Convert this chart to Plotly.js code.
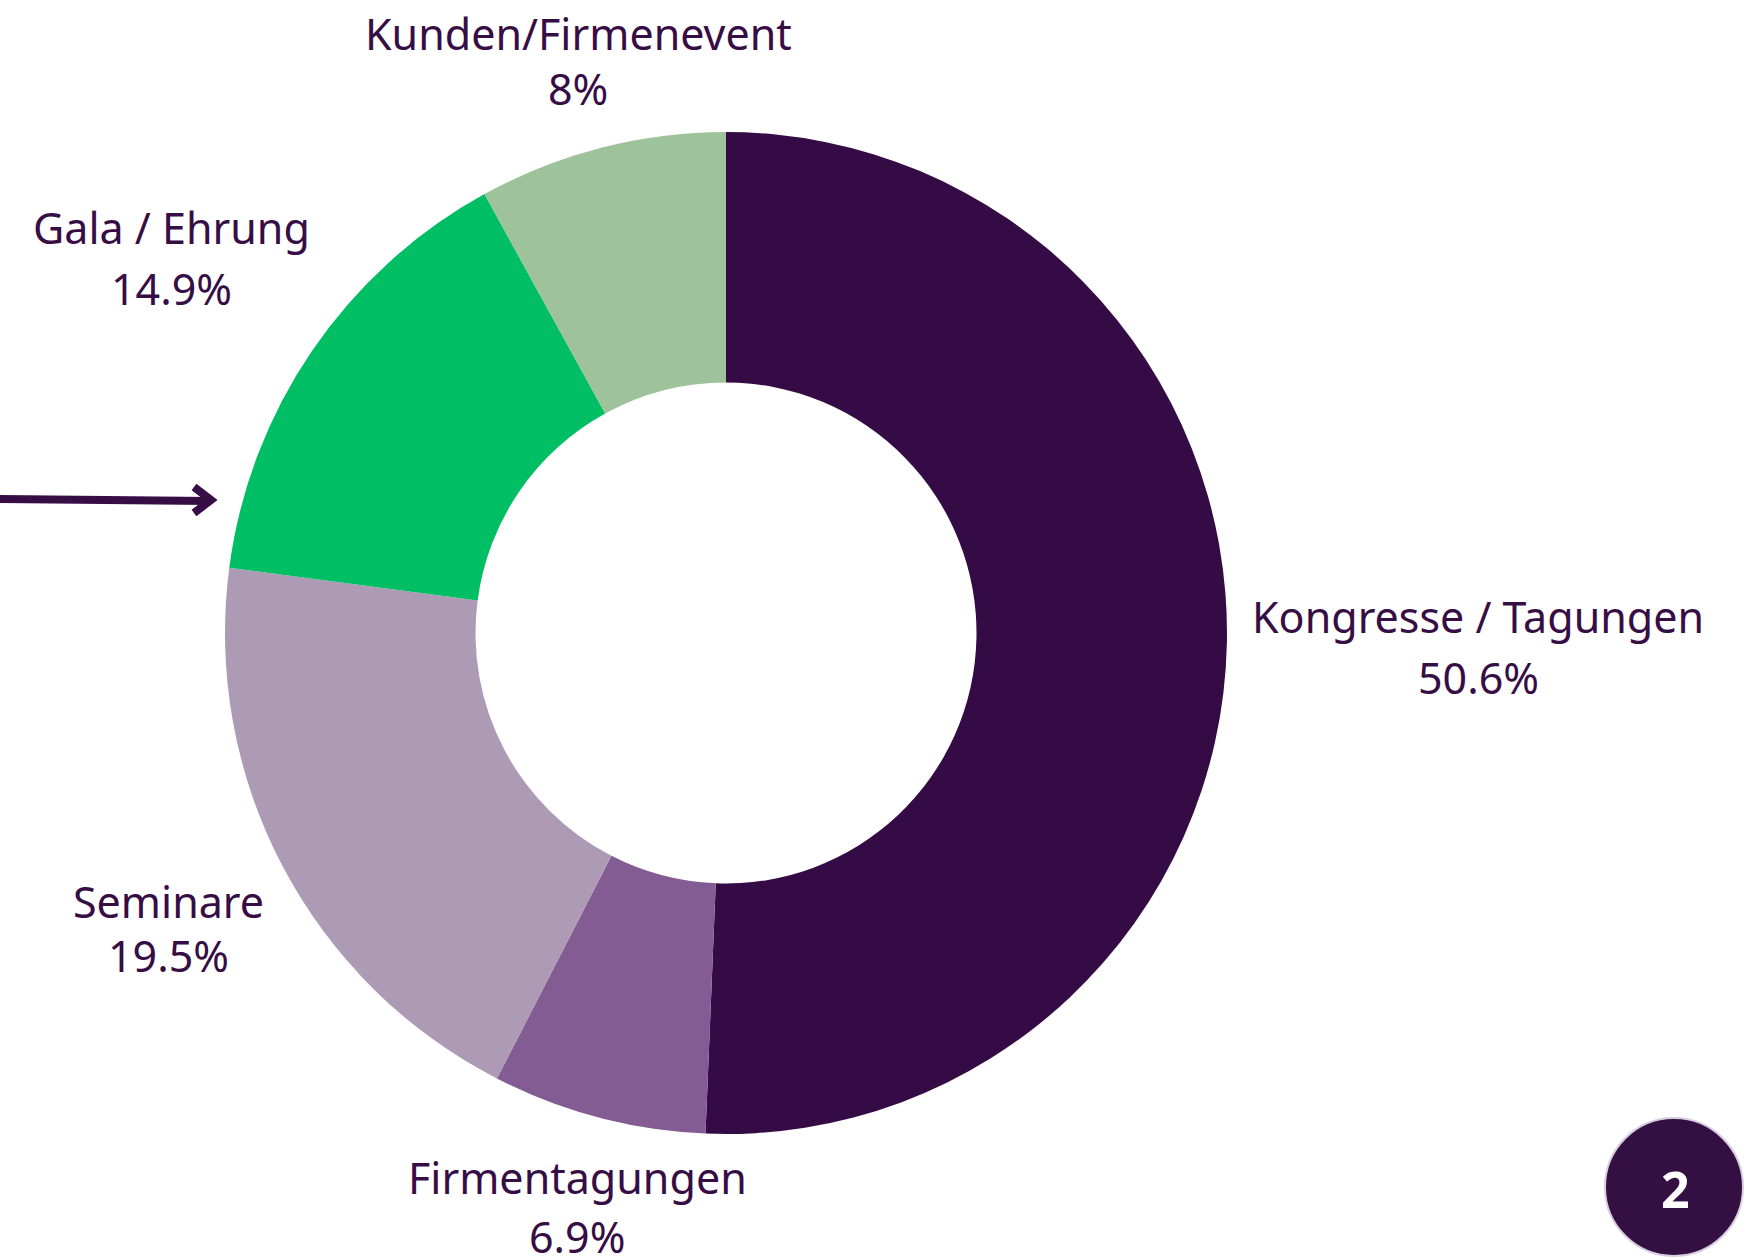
<!DOCTYPE html>
<html>
<head>
<meta charset="utf-8">
<script src="https://cdn.plot.ly/plotly-3.0.1.min.js"></script>
<style>html,body{margin:0;padding:0;background:#fff;}#chart{width:1756px;height:1260px;}</style>
</head>
<body>
<div id="chart"></div>
<script>
// Data
const categories = ["Kongresse / Tagungen", "Firmentagungen", "Seminare", "Gala / Ehrung", "Kunden/Firmenevent"];
const shares = [50.6, 6.9, 19.5, 14.9, 8];
const shareLabels = ["50.6%", "6.9%", "19.5%", "14.9%", "8%"];
const colors = ["#350B45", "#825C92", "#AD9BB5", "#00BE63", "#9EC39B"];
const badgeText = "2";

const W = 1756, H = 1260;
const px = x => x / W;
const py = y => 1 - y / H;

// label positions (pixel centers of name line and percent line)
const labelPos = [
  {x: 1478, y1: 616, y2: 677},
  {x: 577,  y1: 1177, y2: 1236},
  {x: 168,  y1: 901, y2: 955},
  {x: 171,  y1: 227, y2: 289},
  {x: 578,  y1: 33,  y2: 89}
];

const textColor = "#360D44";
const fontFam = "Noto Sans, sans-serif";
const fsz = 43;

const annotations = [];
categories.forEach((c, i) => {
  const p = labelPos[i];
  annotations.push({xref:'paper', yref:'paper', x: px(p.x), y: py(p.y1), text: c, showarrow:false,
    xanchor:'center', yanchor:'middle', font:{family:fontFam, size:fsz, color:textColor}});
  annotations.push({xref:'paper', yref:'paper', x: px(p.x), y: py(p.y2), text: shareLabels[i], showarrow:false,
    xanchor:'center', yanchor:'middle', font:{family:fontFam, size:fsz, color:textColor}});
});
annotations.push({xref:'paper', yref:'paper', x: px(1675), y: py(1189), text: "<b>" + badgeText + "</b>", showarrow:false,
  xanchor:'center', yanchor:'middle', font:{family:"Open Sans, Liberation Sans, sans-serif", size:50, color:"#ffffff", weight:800}});

const cx = 726, cy = 633, R = 501;
const shapes = [
  // arrow line
  {type:'line', xref:'paper', yref:'paper', x0: px(-5), y0: py(499), x1: px(210), y1: py(501),
    line:{color:textColor, width:8}},
  // chevron head
  {type:'path', xref:'paper', yref:'paper',
    path: `M ${px(194)} ${py(487)} L ${px(211)} ${py(500)} L ${px(194)} ${py(513)}`,
    line:{color:textColor, width:8}, fillcolor:'rgba(0,0,0,0)'},
  // badge circle
  {type:'circle', xref:'paper', yref:'paper', x0: px(1605), x1: px(1743), y0: py(1118), y1: py(1256),
    fillcolor:"#330F42", line:{color:"#D8CDE0", width:2}}
];

const trace = {
  type:'pie',
  labels: categories,
  values: shares,
  hole: 0.5,
  sort: false,
  direction: 'clockwise',
  rotation: 0,
  textinfo: 'none',
  hoverinfo: 'label+percent',
  marker: {colors: colors, line:{width:0}},
  domain: {x:[px(cx - R), px(cx + R)], y:[py(cy + R), py(cy - R)]},
  showlegend: false
};

const layout = {
  width: W, height: H,
  margin: {l:0, r:0, t:0, b:0},
  paper_bgcolor: '#ffffff',
  plot_bgcolor: '#ffffff',
  showlegend: false,
  annotations: annotations,
  shapes: shapes
};

Plotly.newPlot('chart', [trace], layout, {displayModeBar:false, staticPlot:true});
</script>
</body>
</html>
